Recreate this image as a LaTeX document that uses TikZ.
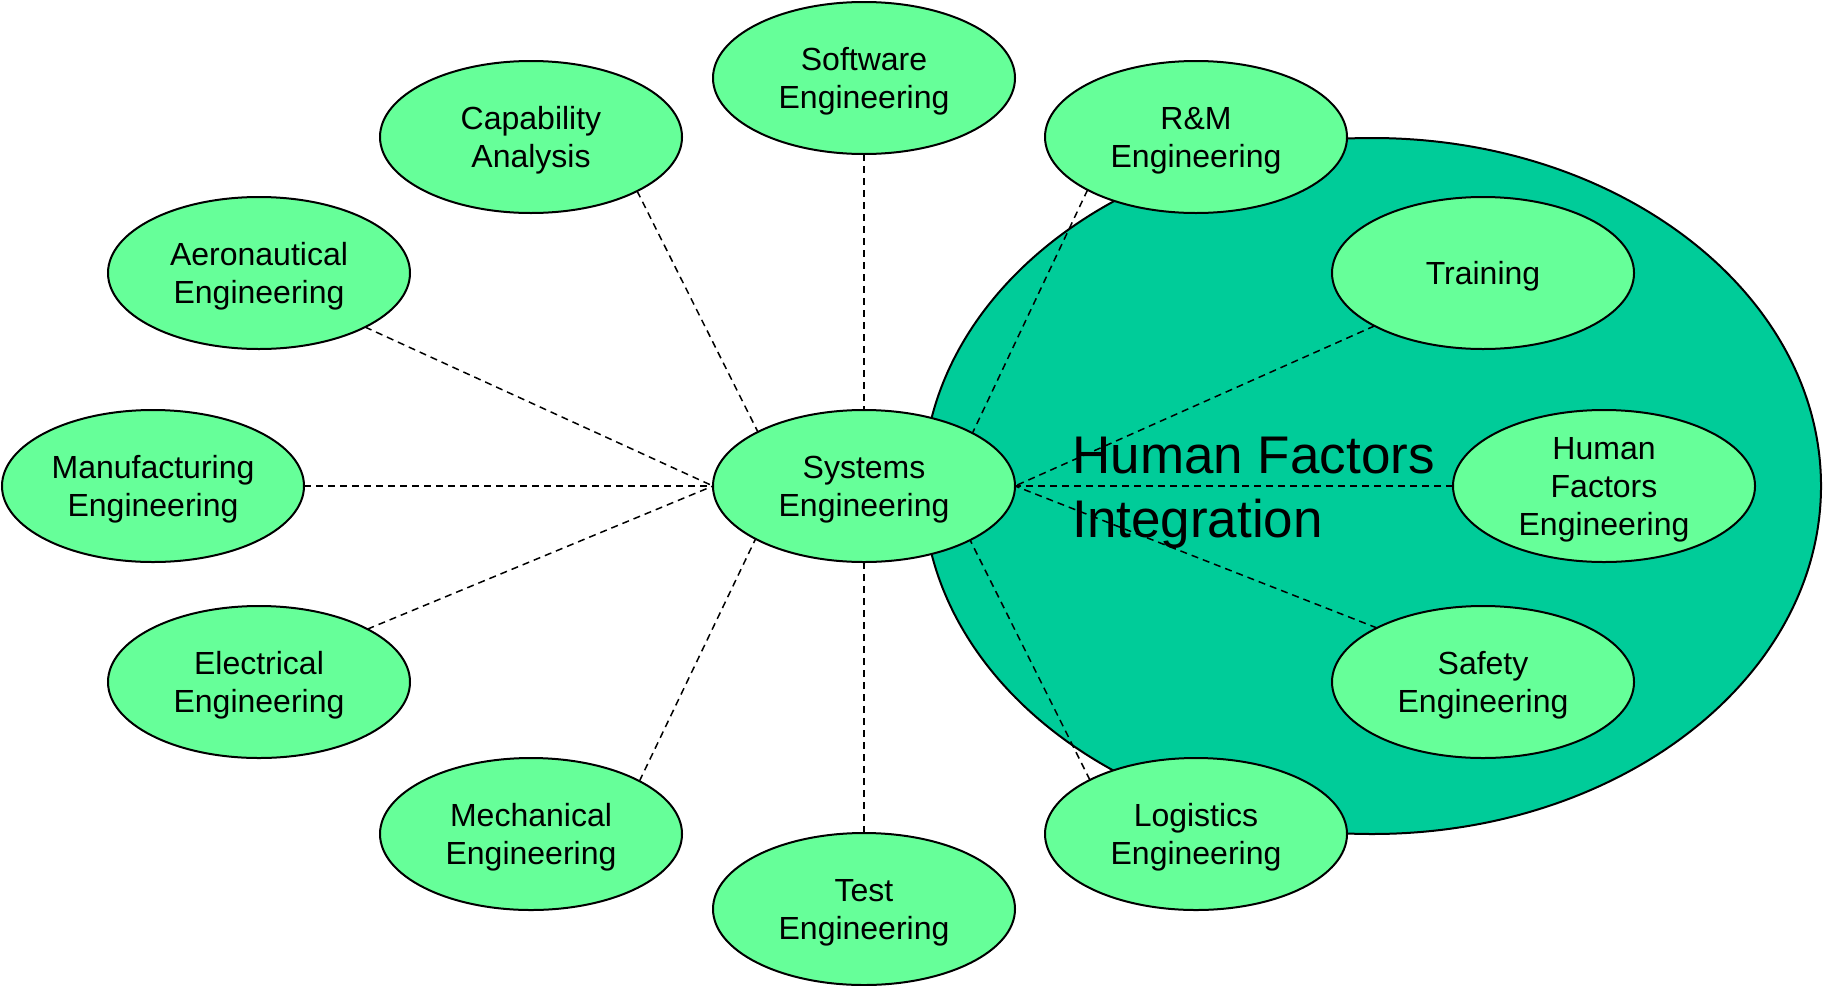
\documentclass[tikz,border=0pt]{standalone}
\usepackage{fontspec}
\setmainfont{Liberation Sans}
\usetikzlibrary{shapes.geometric}
\definecolor{lightgrn}{RGB}{102,255,153}
\definecolor{hfigrn}{RGB}{0,204,153}
\tikzset{
  discipline/.style={ellipse, draw=black, line width=1pt, fill=lightgrn,
    minimum width=151pt, minimum height=76pt, inner sep=0pt, outer sep=0pt,
    align=center, text depth=-1.6pt, font=\fontsize{16}{19}\selectfont},
  hfiarea/.style={ellipse, draw=black, line width=1pt, fill=hfigrn,
    minimum width=449pt, minimum height=348pt, inner sep=0pt, outer sep=0pt},
  link/.style={line width=0.75pt, dash pattern=on 3.5pt off 2.5pt},
  biglabel/.style={align=left, inner sep=0pt, anchor=base west,
    font=\fontsize{26.5}{31.7}\selectfont}
}
\begin{document}
\begin{tikzpicture}[x=0.5pt, y=-0.5pt]
\useasboundingbox (0,0) rectangle (1823,985);
\node[hfiarea] (hfi) at (1372,486) {};
\node[biglabel] (hfilabel) at (1072,537) {Human Factors\\Integration};
\node[discipline] (sys)   at (864,486)  {Systems\\Engineering};
\node[discipline] (sw)    at (864,78)   {Software\\Engineering};
\node[discipline] (cap)   at (531,137)  {Capability\\Analysis};
\node[discipline] (rm)    at (1196,137) {R\&M\\Engineering};
\node[discipline] (aero)  at (259,273)  {Aeronautical\\Engineering};
\node[discipline] (train) at (1483,273) {Training};
\node[discipline] (manu)  at (153,486)  {Manufacturing\\Engineering};
\node[discipline] (hfe)   at (1604,486) {Human\\Factors\\Engineering};
\node[discipline] (elec)  at (259,682)  {Electrical\\Engineering};
\node[discipline] (safe)  at (1483,682) {Safety\\Engineering};
\node[discipline] (mech)  at (531,834)  {Mechanical\\Engineering};
\node[discipline] (logi)  at (1196,834) {Logistics\\Engineering};
\node[discipline] (test)  at (864,909)  {Test\\Engineering};
\draw[link] (sw.south) -- (sys.north);
\draw[link] (cap.333.3) -- (sys.153.3);
\draw[link] (rm.206.7) -- (sys.26.7);
\draw[link] (aero.333.3) -- (sys.west);
\draw[link] (manu.east) -- (sys.west);
\draw[link] (elec.26.7) -- (sys.west);
\draw[link] (mech.26.7) -- (sys.206.7);
\draw[link] (test.north) -- (sys.south);
\draw[link] (logi.153.3) -- (sys.333.3);
\draw[link] (train.206.7) -- (sys.east);
\draw[link] (hfe.west) -- (sys.east);
\draw[link] (safe.153.3) -- (sys.east);
\end{tikzpicture}
\end{document}
